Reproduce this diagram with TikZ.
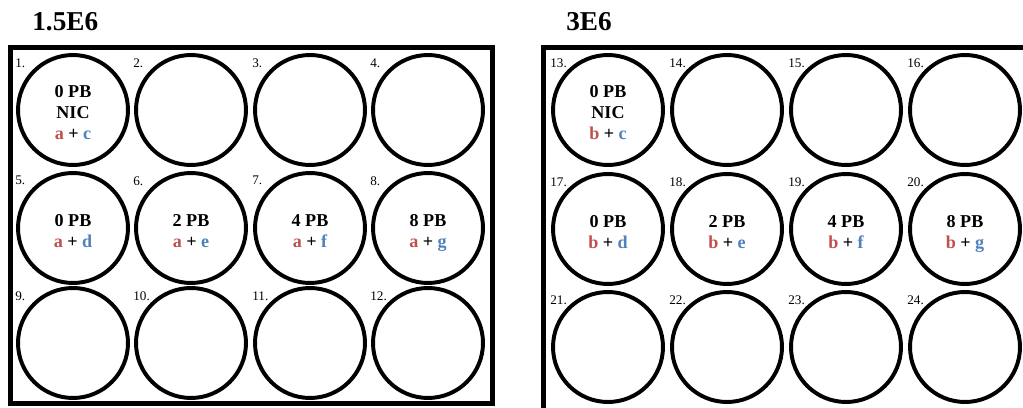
\documentclass[tikz,border=0pt]{standalone}
\usepackage{fontspec}
\setmainfont{Liberation Serif}
\usetikzlibrary{calc}
\definecolor{mixred}{RGB}{192,80,77}
\definecolor{mixblue}{RGB}{79,129,189}
\tikzset{
  plate/.style={line width=2.8pt},
  well/.style={circle,draw,line width=2.25pt,inner sep=0pt,minimum size=2.2cm},
  welltext/.style={inner sep=0pt,align=center,font=\bfseries\fontsize{10.3}{12}\selectfont},
  wellnum/.style={anchor=north west,inner sep=0pt,font=\fontsize{7.5}{9}\selectfont},
  platetitle/.style={anchor=base west,inner sep=0pt,font=\bfseries\fontsize{15.5}{18}\selectfont}}
\newcommand\mix[2]{\textcolor{mixred}{#1} + \textcolor{mixblue}{#2}\strut}
\newcommand\wellAt[4]{ % name, position, number, content
  \node[well] (#1) at (#2) {};
  \node[welltext] (#1txt) at ($(#1)+(0,6)$) {#4};
  \node[wellnum] (#1num) at ($(#1)+(-58,-52)$) {#3};
}

\begin{document}
\begin{tikzpicture}[x=0.02cm,y=-0.02cm]
  \useasboundingbox (0,0) rectangle (1023,408);
  \clip (0,0) rectangle (1023,408);

  % TITLES
  \node[platetitle] (tleft) at (32,31) {1.5E6};
  \node[platetitle] (tright) at (566,31) {3E6};

  % PLATES
  \draw[plate] (10.5,47.5) rectangle (492.5,403.5); % left plate
  \draw[plate] (543.5,47.5) rectangle (1060,430);   % right plate (cut off)

  % WELLS LEFT
  \wellAt{w1}{73,110}{1.}{0 PB\\NIC\\\mix{a}{c}}
  \wellAt{w2}{191,110}{2.}{}
  \wellAt{w3}{310,110}{3.}{}
  \wellAt{w4}{428,110}{4.}{}
  \wellAt{w5}{73,228}{5.}{0 PB\\\mix{a}{d}}
  \wellAt{w6}{191,228}{6.}{2 PB\\\mix{a}{e}}
  \wellAt{w7}{310,228}{7.}{4 PB\\\mix{a}{f}}
  \wellAt{w8}{428,228}{8.}{8 PB\\\mix{a}{g}}
  \wellAt{w9}{73,343}{9.}{}
  \wellAt{w10}{191,343}{10.}{}
  \wellAt{w11}{310,343}{11.}{}
  \wellAt{w12}{428,343}{12.}{}

  % WELLS RIGHT
  \wellAt{w13}{608,110}{13.}{0 PB\\NIC\\\mix{b}{c}}
  \wellAt{w14}{727,110}{14.}{}
  \wellAt{w15}{846,110}{15.}{}
  \wellAt{w16}{965,110}{16.}{}
  \wellAt{w17}{608,229}{17.}{0 PB\\\mix{b}{d}}
  \wellAt{w18}{727,229}{18.}{2 PB\\\mix{b}{e}}
  \wellAt{w19}{846,229}{19.}{4 PB\\\mix{b}{f}}
  \wellAt{w20}{965,229}{20.}{8 PB\\\mix{b}{g}}
  \wellAt{w21}{608,347}{21.}{}
  \wellAt{w22}{727,347}{22.}{}
  \wellAt{w23}{846,347}{23.}{}
  \wellAt{w24}{965,347}{24.}{}
\end{tikzpicture}
\end{document}
